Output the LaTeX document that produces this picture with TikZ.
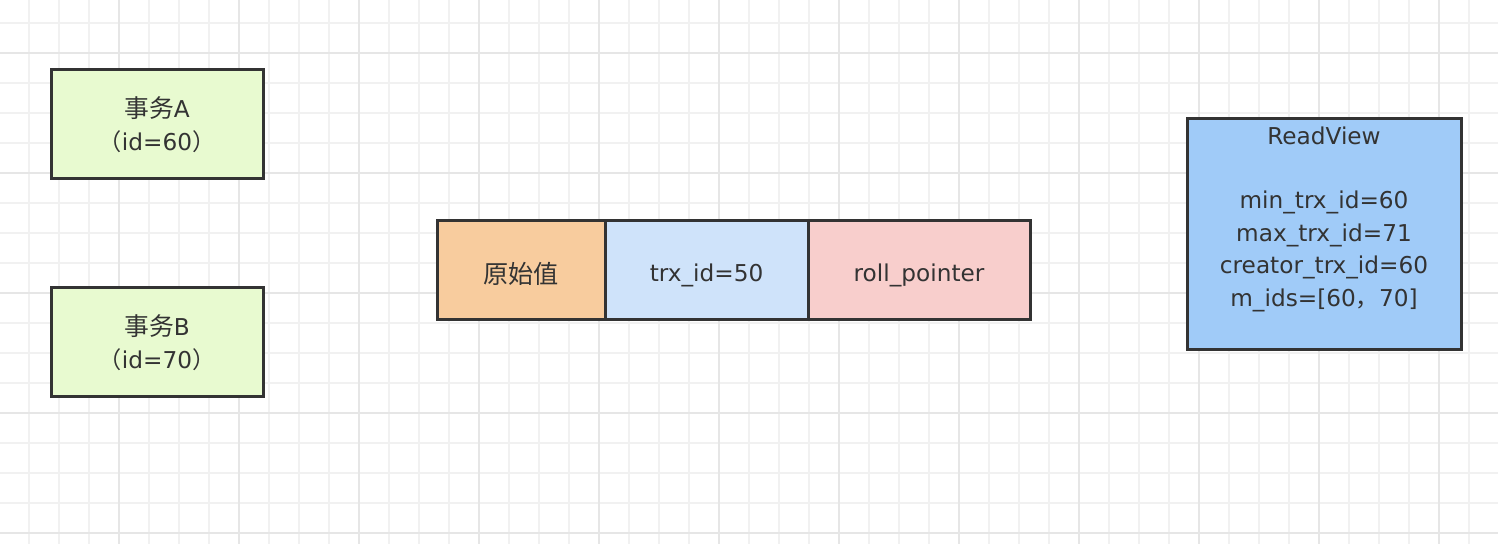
\documentclass[tikz,border=0pt]{standalone}
\usepackage{fontspec}
\setmainfont{DejaVu Sans}
\newfontfamily\cjk{Noto Sans CJK SC}
\definecolor{gridminor}{HTML}{F1F1F1}
\definecolor{gridmajor}{HTML}{E6E6E6}
\definecolor{edge}{HTML}{333333}
\definecolor{txt}{HTML}{333333}
\definecolor{greenfill}{HTML}{E8FAD0}
\definecolor{orangefill}{HTML}{F8CC9E}
\definecolor{bluefill}{HTML}{CFE3FA}
\definecolor{pinkfill}{HTML}{F8CECC}
\definecolor{rvfill}{HTML}{A0CBF8}
\tikzset{
  box/.style={draw=edge, line width=1.5pt, rectangle, inner sep=0pt, text=txt,
    align=center, font=\fontsize{11.6}{16.5}\selectfont},
  lbl/.style={text=txt, align=center, inner sep=0pt, font=\fontsize{11.6}{16.2}\selectfont},
}
\begin{document}
\begin{tikzpicture}[x=0.5pt,y=-0.5pt]
\fill[white] (0,0) rectangle (1498,544);
\useasboundingbox (0,0) rectangle (1498,544);
% grid
\foreach \i in {0,...,49} { \draw[gridminor, line width=1pt] (29+30*\i,0) -- (29+30*\i,544); }
\foreach \j in {0,...,17} { \draw[gridminor, line width=1pt] (0,23+30*\j) -- (1498,23+30*\j); }
\foreach \i in {0,...,12} { \draw[gridmajor, line width=1pt] (119+120*\i,0) -- (119+120*\i,544); }
\foreach \j in {0,...,4} { \draw[gridmajor, line width=1pt] (0,53+120*\j) -- (1498,53+120*\j); }
% transactions
\node[box, fill=greenfill, minimum width=106pt, minimum height=54.5pt] (ta) at (157,124.5) {{\cjk\fontsize{12.4}{16.5}\selectfont 事务}A\\{\cjk（}id=60{\cjk）}};
\node[box, fill=greenfill, minimum width=106pt, minimum height=54.5pt] (tb) at (157,342.5) {{\cjk\fontsize{12.4}{16.5}\selectfont 事务}B\\{\cjk（}id=70{\cjk）}};
% record
\node[box, fill=orangefill, minimum width=84pt, minimum height=49.5pt] (orig) at (521,270.5) {};
\node[box, fill=bluefill, minimum width=101.5pt, minimum height=49.5pt] (trx) at (706.5,270.5) {};
\node[box, fill=pinkfill, minimum width=111pt, minimum height=49.5pt] (roll) at (919,270.5) {};
\node[lbl, font=\cjk\fontsize{12.6}{16.5}\selectfont] (origt) at ([yshift=-1.5pt]orig.center) {原始值};
\node[lbl] (trxt) at ([yshift=-2.5pt]trx.center) {trx\_id=50};
\node[lbl] (rollt) at ([yshift=-2.5pt]roll.center) {roll\_pointer};
% readview
\node[box, fill=rvfill, minimum width=137pt, minimum height=115.5pt] (rv) at (1324,234.5) {};
\node[lbl] (rvtext) at (1324,219) {ReadView\\[16.2pt]min\_trx\_id=60\\max\_trx\_id=71\\creator\_trx\_id=60\\m\_ids=[60{\cjk，}70]};
\end{tikzpicture}
\end{document}
